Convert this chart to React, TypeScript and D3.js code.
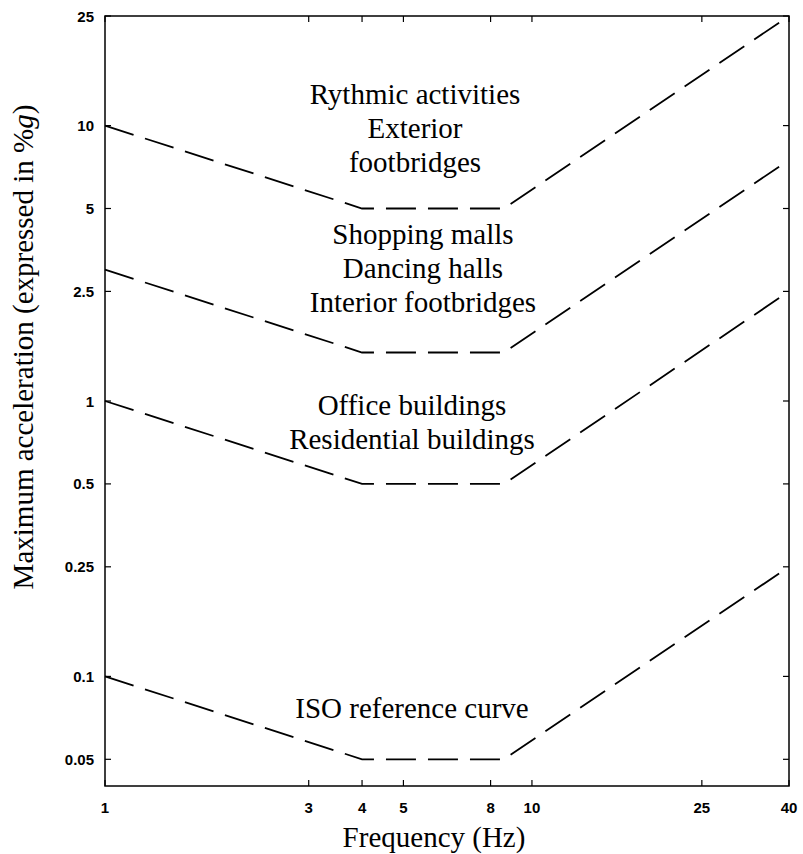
import React from "react";
import * as d3 from "d3";

const frequencies = [1, 4, 8.6, 40];
const rythmicValues = [10, 5, 5, 25];
const shoppingValues = [3, 1.5, 1.5, 7.5];
const officeValues = [1, 0.5, 0.5, 2.5];
const isoValues = [0.1, 0.05, 0.05, 0.25];

const xTickValues = [1, 3, 4, 5, 8, 10, 25, 40];
const yTickValues = [25, 10, 5, 2.5, 1, 0.5, 0.25, 0.1, 0.05];
const yTickLabels = ["25", "10", "5", "2.5", "1", "0.5", "0.25", "0.1", "0.05"];

const seriesList = [rythmicValues, shoppingValues, officeValues, isoValues];

const annotations = [
  { lines: ["Rythmic activities", "Exterior", "footbridges"], x: 415, y: 104 },
  { lines: ["Shopping malls", "Dancing halls", "Interior footbridges"], x: 423, y: 244 },
  { lines: ["Office buildings", "Residential buildings"], x: 412, y: 415 },
  { lines: ["ISO reference curve"], x: 412, y: 718 },
];

export default function App() {
  const W = 803, H = 854;
  const left = 105, right = 789, top = 16, bottom = 786;
  const x = d3.scaleLog().domain([1, 40]).range([left, right]);
  const y = d3.scaleLog().domain([0.04, 25]).range([bottom, top]);
  const line = d3
    .line<number>()
    .x((_, i) => x(frequencies[i]))
    .y((v) => y(v));
  const tickLen = 6;
  const serif = "'Liberation Serif', 'Times New Roman', serif";
  const sans = "'Liberation Sans', Arial, sans-serif";
  return (
    <svg
      width={W}
      height={H}
      style={{ position: "absolute", left: 0, top: 0, background: "#fff" }}
    >
      <rect x={0} y={0} width={W} height={H} fill="#fff" />
      {/* ticks */}
      {xTickValues.map((t) => (
        <g key={"xt" + t}>
          <line x1={x(t)} x2={x(t)} y1={bottom} y2={bottom - tickLen} stroke="#000" strokeWidth={1.2} />
          <line x1={x(t)} x2={x(t)} y1={top} y2={top + tickLen} stroke="#000" strokeWidth={1.2} />
          <text
            x={x(t)}
            y={813}
            textAnchor="middle"
            fontFamily={sans}
            fontWeight="bold"
            fontSize={15}
          >
            {String(t)}
          </text>
        </g>
      ))}
      {yTickValues.map((t, i) => (
        <g key={"yt" + t}>
          <line x1={left} x2={left + tickLen} y1={y(t)} y2={y(t)} stroke="#000" strokeWidth={1.2} />
          <line x1={right} x2={right - tickLen} y1={y(t)} y2={y(t)} stroke="#000" strokeWidth={1.2} />
          <text
            x={left - 11}
            y={y(t) + 5.5}
            textAnchor="end"
            fontFamily={sans}
            fontWeight="bold"
            fontSize={15}
          >
            {yTickLabels[i]}
          </text>
        </g>
      ))}
      {/* frame */}
      <rect
        x={left}
        y={top}
        width={right - left}
        height={bottom - top}
        fill="none"
        stroke="#000"
        strokeWidth={1.5}
      />
      {/* curves */}
      {seriesList.map((s, i) => (
        <path
          key={"s" + i}
          d={line(s) || ""}
          fill="none"
          stroke="#000"
          strokeWidth={1.8}
          strokeDasharray="30,12"
        />
      ))}
      {/* annotations */}
      {annotations.map((a, i) => (
        <text key={"a" + i} fontFamily={serif} fontSize={29} textAnchor="middle" fill="#000">
          {a.lines.map((l, j) => (
            <tspan key={j} x={a.x} y={a.y + j * 34}>
              {l}
            </tspan>
          ))}
        </text>
      ))}
      {/* axis labels */}
      <text x={434} y={847} textAnchor="middle" fontFamily={serif} fontSize={29}>
        Frequency (Hz)
      </text>
      <text
        transform="translate(33,347) rotate(-90)"
        textAnchor="middle"
        fontFamily={serif}
        fontSize={29}
      >
        Maximum acceleration (expressed in %
        <tspan fontStyle="italic">g</tspan>)
      </text>
    </svg>
  );
}
